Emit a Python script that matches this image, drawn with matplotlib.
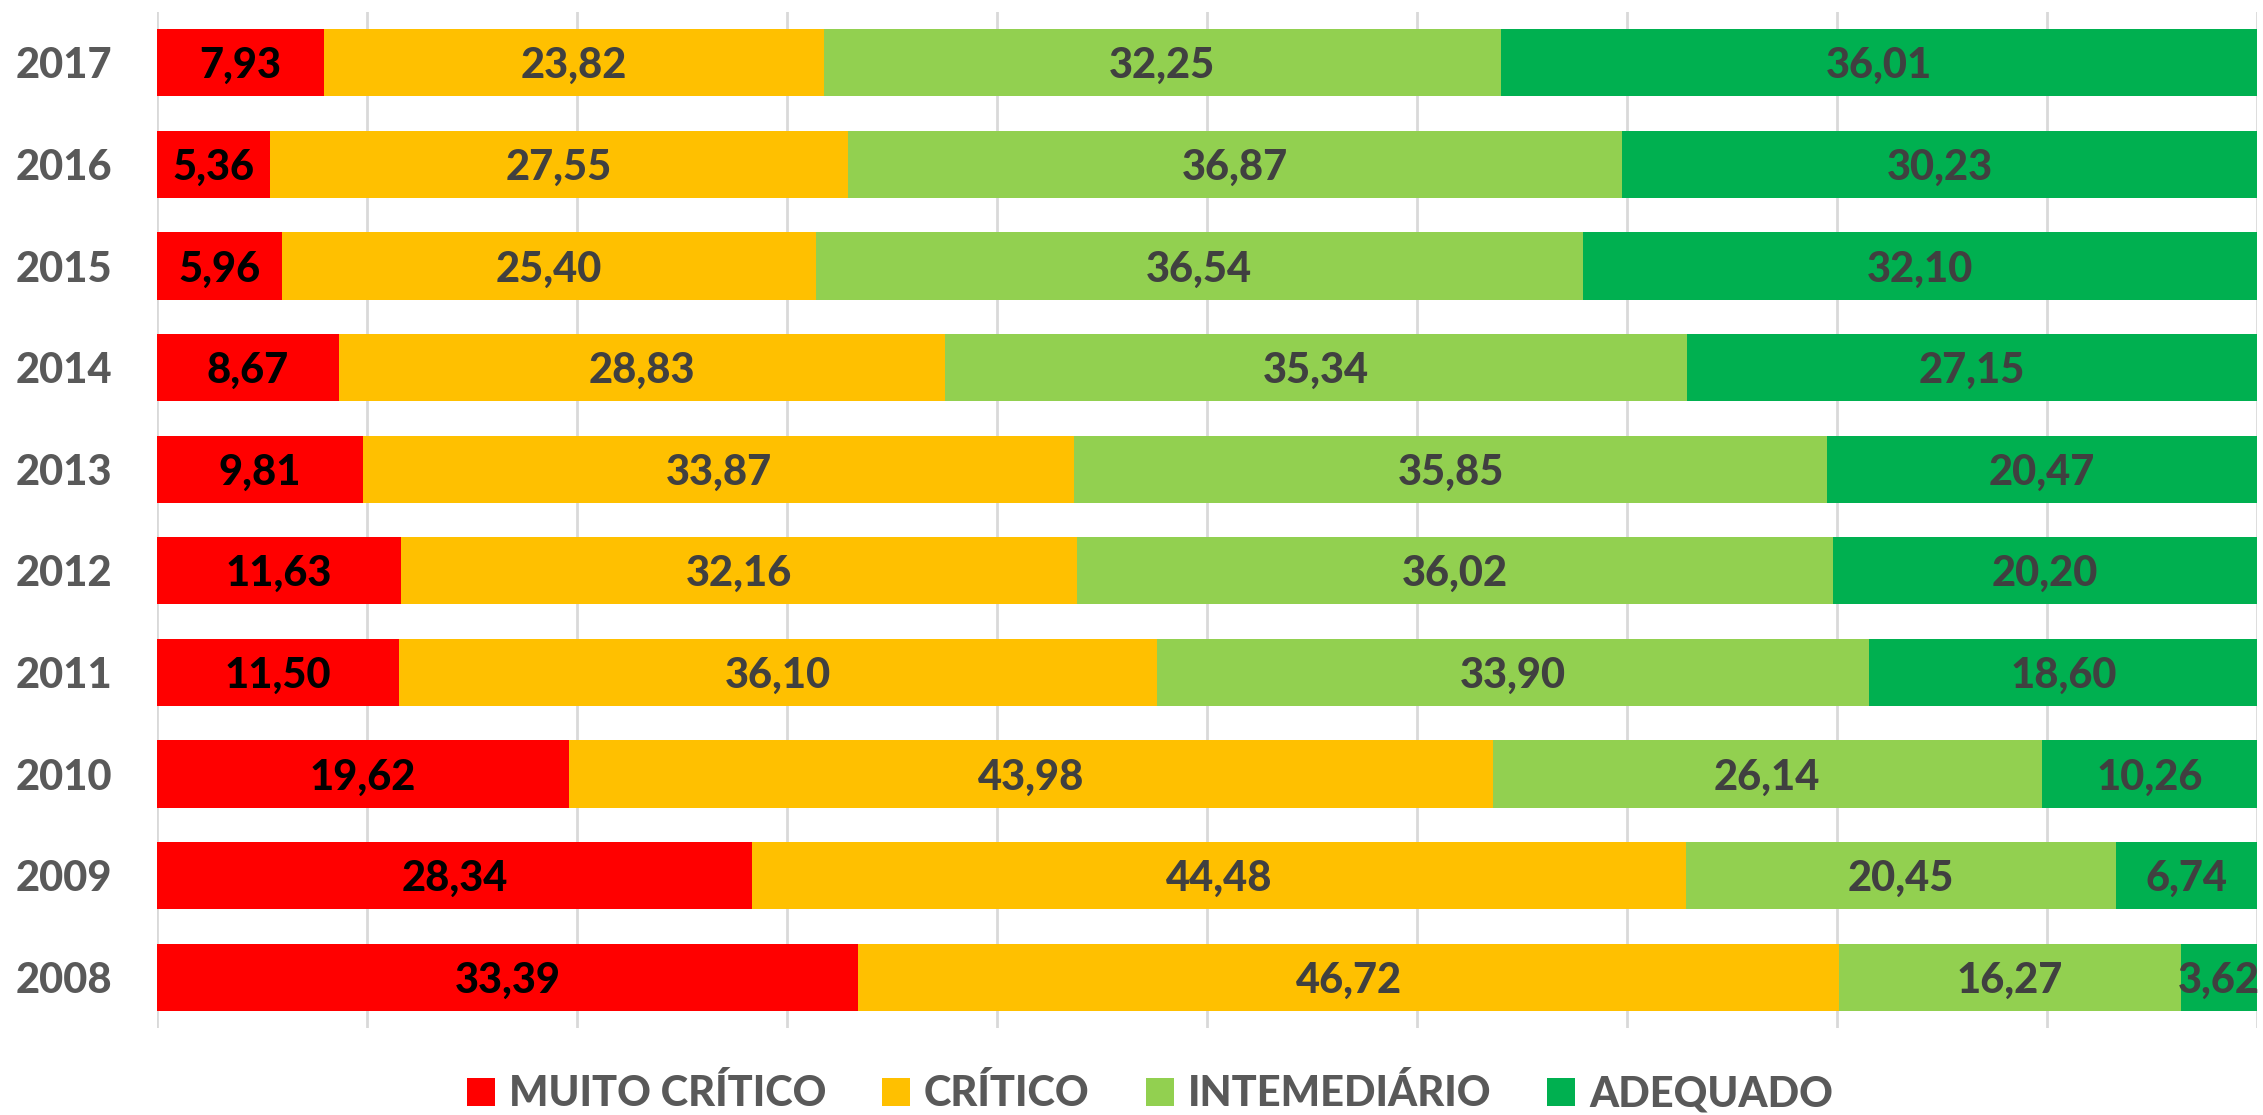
from matplotlib import pyplot as plt
from matplotlib.patches import Patch
import numpy as np

# Data
YEARS = ["2008", "2009", "2010", "2011", "2012", "2013", "2014", "2015", "2016", "2017"]
MUITO_CRITICO = [33.39, 28.34, 19.62, 11.50, 11.63, 9.81, 8.67, 5.96, 5.36, 7.93]
CRITICO = [46.72, 44.48, 43.98, 36.10, 32.16, 33.87, 28.83, 25.40, 27.55, 23.82]
INTERMEDIARIO = [16.27, 20.45, 26.14, 33.90, 36.02, 35.85, 35.34, 36.54, 36.87, 32.25]
ADEQUADO = [3.62, 6.74, 10.26, 18.60, 20.20, 20.47, 27.15, 32.10, 30.23, 36.01]

SERIES_NAMES = ["MUITO CRÍTICO", "CRÍTICO", "INTEMEDIÁRIO", "ADEQUADO"]
COLORS = ["#FF0000", "#FFC000", "#92D050", "#00B050"]
LABEL_COLORS = ["#000000", "#404040", "#404040", "#404040"]

FONT = ["Lato", "DejaVu Sans"]
FONT_SIZE = 30
WEIGHT = "black"


def main() -> None:
    plt.rcParams["font.family"] = FONT
    plt.rcParams["font.weight"] = WEIGHT

    fig = plt.figure(figsize=(22.63, 11.15), dpi=100)
    ax = fig.add_axes([157 / 2263, 1 - 1028 / 1115, 2100 / 2263, 1016 / 1115])

    series = [MUITO_CRITICO, CRITICO, INTERMEDIARIO, ADEQUADO]
    y = np.arange(len(YEARS))
    left = np.zeros(len(YEARS))
    for vals, color, lab_color in zip(series, COLORS, LABEL_COLORS):
        vals = np.array(vals)
        bars = ax.barh(y, vals, left=left, height=0.66, color=color, zorder=2)
        for rect, v in zip(bars, vals):
            cx = rect.get_x() + rect.get_width() / 2
            ax.text(cx, rect.get_y() + rect.get_height() / 2, f"{v:.2f}".replace(".", ","),
                    ha="center", va="center_baseline", fontsize=FONT_SIZE,
                    fontweight=WEIGHT, color=lab_color, zorder=3, clip_on=False)
        left += vals

    ax.set_xlim(0, 100)
    ax.set_ylim(-0.5, len(YEARS) - 0.5)
    ax.set_xticks(np.arange(0, 101, 10))
    ax.xaxis.grid(True, color="#D9D9D9", linewidth=2, zorder=0)
    ax.set_axisbelow(True)
    ax.tick_params(axis="x", length=0, labelbottom=False)
    ax.tick_params(axis="y", length=0, pad=32)
    ax.set_yticks(y)
    ax.set_yticklabels(YEARS, fontsize=FONT_SIZE, fontweight=WEIGHT, color="#595959")
    for side in ["top", "right", "bottom", "left"]:
        ax.spines[side].set_visible(False)

    handles = [Patch(facecolor=c, edgecolor="none") for c in COLORS]
    leg = fig.legend(handles, SERIES_NAMES, loc="center", bbox_to_anchor=(1150 / 2263, 1 - 1094 / 1115),
                     ncol=4, frameon=False, fontsize=FONT_SIZE, handlelength=0.67, handleheight=0.67,
                     handletextpad=0.33, columnspacing=1.35, borderpad=0)
    for t in leg.get_texts():
        t.set_color("#595959")
        t.set_fontweight(WEIGHT)

    fig.savefig("out.png", dpi=100)


if __name__ == "__main__":
    main()
